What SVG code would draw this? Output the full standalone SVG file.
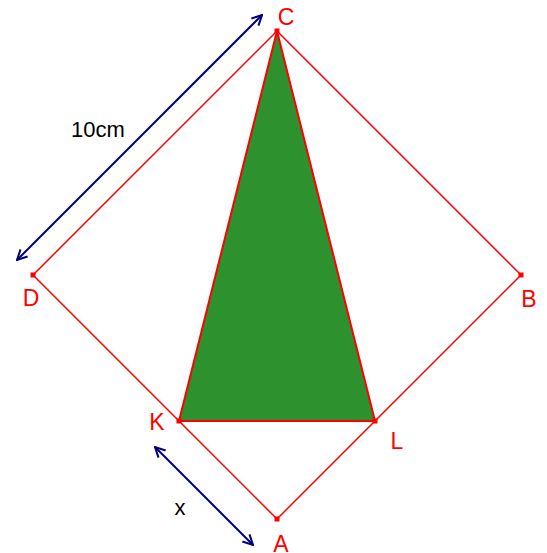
<svg xmlns="http://www.w3.org/2000/svg" width="547" height="553" viewBox="0 0 547 553">
<style>
.edge{fill:none;stroke:#ff0000;stroke-width:1.5}
.pt{fill:#ff0000}
.lbl{font-family:"Liberation Sans",Arial,sans-serif;font-size:23px;fill:#ff0000;text-anchor:middle}
.dim{fill:none;stroke:#000080;stroke-width:2;marker-start:url(#ah);marker-end:url(#ah)}
.txt{font-family:"Liberation Sans",Arial,sans-serif;font-size:22px;fill:#000000;text-anchor:middle}
</style>
<defs>
<marker id="ah" viewBox="0 0 12 12" refX="11" refY="6" markerWidth="12" markerHeight="12" markerUnits="userSpaceOnUse" orient="auto-start-reverse">
<path d="M1,1 L11,6 L1,11" fill="none" stroke="#000080" stroke-width="2"/>
</marker>
</defs>
<rect width="547" height="553" fill="#ffffff"/>
<g id="triangle">
<polygon points="277,31 179,421 375,421" fill="#2d922d" stroke="#ff0000" stroke-width="2"/>
</g>
<g id="square">
<polygon class="edge" points="277,31 521,275 277,519 33,275"/>
</g>
<g id="connectors">
<line class="dim" x1="262" y1="15" x2="17" y2="260"/>
<line class="dim" x1="155" y1="447" x2="253" y2="545"/>
</g>
<g id="C"><rect class="pt" x="274.5" y="28.5" width="5" height="5"/><text class="lbl" x="286" y="25">C</text></g>
<g id="D"><rect class="pt" x="30.5" y="272.5" width="5" height="5"/><text class="lbl" x="31" y="306">D</text></g>
<g id="B"><rect class="pt" x="518.5" y="272.5" width="5" height="5"/><text class="lbl" x="529" y="307">B</text></g>
<g id="A"><rect class="pt" x="274.5" y="516.5" width="5" height="5"/><text class="lbl" x="281" y="552">A</text></g>
<g id="K"><rect class="pt" x="176.5" y="418.5" width="5" height="5"/><text class="lbl" x="157" y="430">K</text></g>
<g id="L"><rect class="pt" x="372.5" y="418.5" width="5" height="5"/><text class="lbl" x="397" y="449">L</text></g>
<text class="txt" x="98" y="137">10cm</text>
<text class="txt" x="180" y="515">x</text>
</svg>
